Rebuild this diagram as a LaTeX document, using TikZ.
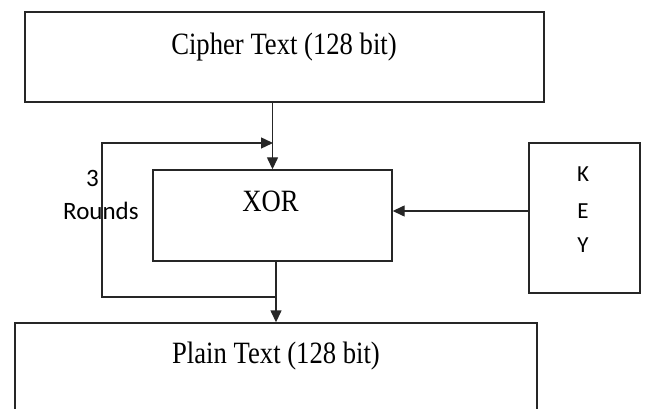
\documentclass[tikz,border=0pt]{standalone}
\usepackage{fontspec}
\setmainfont{Liberation Serif}
\newfontfamily\calibrifont{Carlito}
\usetikzlibrary{arrows.meta,calc}

\tikzset{
  blockbox/.style={draw=black!85, line width=1.4pt, fill=white, inner sep=0pt},
  serifText/.style={font=\fontsize{31}{36}\selectfont, anchor=base, inner sep=0pt},
  sansText/.style={font=\calibrifont\fontsize{23}{33}\selectfont, inner sep=0pt},
  flow/.style={draw=black!85, line width=1.4pt, -{Triangle[length=12pt,width=11pt]}},
  plainline/.style={draw=black!85, line width=1.4pt}
}
\newcommand{\narrow}[1]{\scalebox{0.86}[1]{#1}}

\begin{document}
\begin{tikzpicture}[x=1pt,y=-1pt]
  \useasboundingbox (0,0) rectangle (646,409);
  \clip (0,0) rectangle (646,409);

  % boxes
  \node[blockbox, minimum width=519pt, minimum height=90pt] (cipher) at (284.5,57) {};
  \node[blockbox, minimum width=239pt, minimum height=91pt] (xor) at (272.5,215.5) {};
  \node[blockbox, minimum width=111pt, minimum height=150pt] (key) at (584.5,218) {};
  \node[blockbox, minimum width=522pt, minimum height=120pt] (plain) at (276,383) {};

  % box texts
  \node[serifText] (cipherlabel) at (284,55) {\narrow{Cipher Text (128 bit)}};
  \node[serifText] (xorlabel) at (270.5,212) {\narrow{XOR}};
  \node[serifText] (plainlabel) at (276,363) {\narrow{Plain Text (128 bit)}};
  \node[sansText, anchor=base] (keyk) at (583,182) {K};
  \node[sansText, anchor=base] (keye) at (583,218.5) {E};
  \node[sansText, anchor=base] (keyy) at (583,253) {Y};
  \node[sansText, font=\calibrifont\fontsize{25}{33}\selectfont, anchor=base west, align=left]
    (rounds) at (63,220) {\hspace*{23pt}3\\Rounds};

  % main data path
  \draw[flow] (cipher.south -| xor.north) -- (xor.north);
  \draw[flow] (xor.south -| 276,0) -- (276,0 |- plain.north);
  \draw[flow] ([yshift=7pt]key.west) -- ([yshift=7pt]key.west -| xor.east);

  % feedback loop for the three rounds
  \coordinate (loopout) at (276,297);
  \coordinate (loopin) at (273,143);
  \draw[plainline] (loopout) -- (102,297) -- (102,143) -- ++(100,0);
  \draw[flow] (102,143) -- (loopin);
\end{tikzpicture}
\end{document}
